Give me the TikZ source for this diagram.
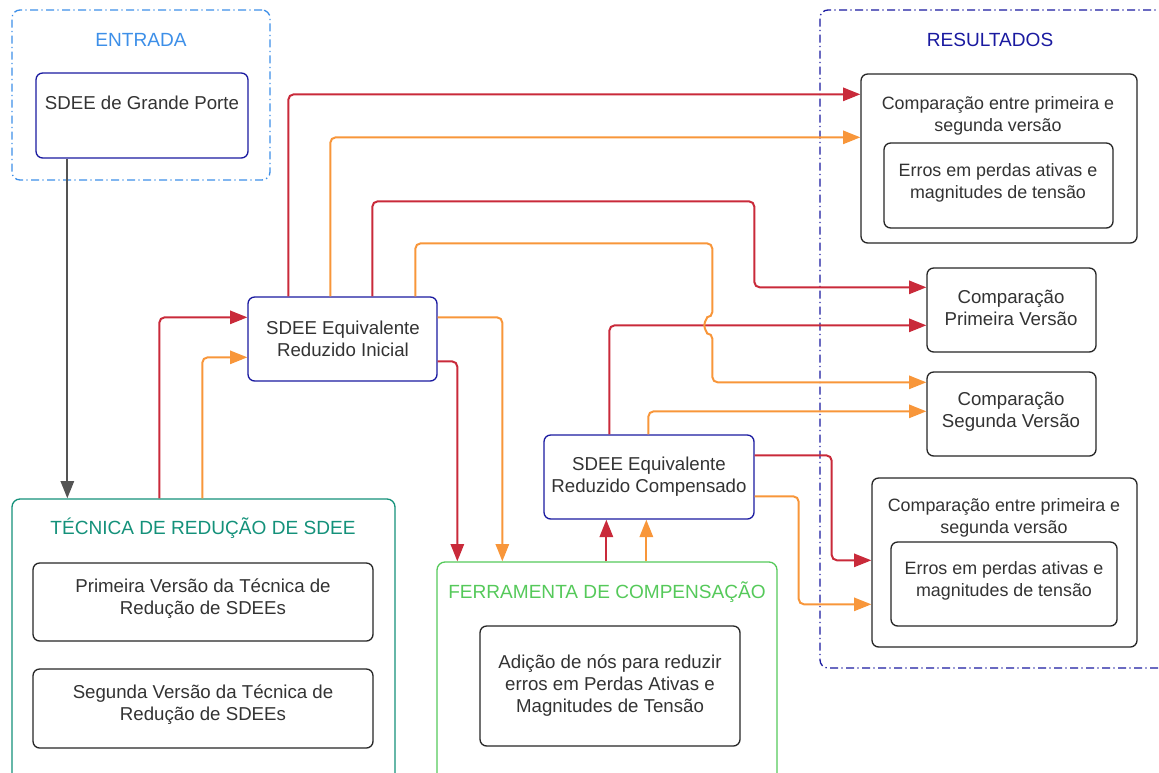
\documentclass[tikz,border=0pt]{standalone}
\usepackage{fontspec}
\setmainfont{Liberation Sans}
\usepackage{xcolor}
\usepackage{tikz}
\usetikzlibrary{arrows.meta, calc, fit}

\definecolor{entblue}{HTML}{3D8FE8}
\definecolor{navy}{HTML}{1A1AA0}
\definecolor{teal}{HTML}{14917A}
\definecolor{fgreen}{HTML}{55C95A}
\definecolor{lred}{HTML}{C92A3A}
\definecolor{lorange}{HTML}{F8963A}
\definecolor{txtgray}{HTML}{333333}

\begin{document}
\begin{tikzpicture}[x=0.75pt, y=-0.75pt,
    txt/.style={font=\fontsize{14}{16.5}\selectfont, text=txtgray, align=center},
    smalltxt/.style={txt, font=\fontsize{13.4}{16.5}\selectfont},
    tittxt/.style={txt, font=\fontsize{14.3}{16.5}\selectfont},
    grp/.style={draw, rounded corners=6pt, line width=1pt, inner sep=0pt,
        dash pattern=on 6pt off 2.5pt on 1pt off 2.5pt},
    box/.style={draw=black!85, rounded corners=5pt, line width=1pt, inner sep=0pt, fill=white},
    sdee/.style={box, draw=navy},
    conn/.style={line width=1.5pt, rounded corners=4pt, -{Triangle[length=13pt, width=10pt]}},
    redln/.style={conn, lred},
    orln/.style={conn, lorange}]
    \useasboundingbox (0,0) rectangle (1159,772);

    \node[grp, draw=entblue, fit={(12,10) (270,180)}] (entrada) {};
    \node[grp, draw=navy, fit={(820,10) (1175,668)}] (result) {};
    \node[grp, draw=teal, solid, fit={(12,499) (395,790)}] (tec) {};
    \node[grp, draw=fgreen, solid, fit={(437,562) (777,790)}] (ferr) {};
    \node[tittxt, text=entblue] (entradatit) at (141,40) {ENTRADA};
    \node[tittxt, text=navy] (resulttit) at (990,40) {RESULTADOS};
    \node[tittxt, text=teal] (tectit) at (203,528) {TÉCNICA DE REDUÇÃO DE SDEE};
    \node[tittxt, text=fgreen] (ferrtit) at (607,592) {FERRAMENTA DE COMPENSAÇÃO};

    \node[sdee, fit={(36,73) (248,158)}] (grande) {};
    \node[sdee, fit={(248,297) (437,381)}] (ini) {};
    \node[sdee, fit={(544,435) (754,519)}] (comp) {};
    \node[box, fit={(33,563) (373,641)}] (prim) {};
    \node[box, fit={(33,669) (373,748)}] (seg) {};
    \node[box, fit={(480,626) (740,746)}] (adic) {};
    \node[box, fit={(861,74) (1137,243)}] (cmpA) {};
    \node[box, fit={(884,143) (1113,228)}] (errA) {};
    \node[box, fit={(927,268) (1096,352)}] (cmpP) {};
    \node[box, fit={(927,372) (1096,456)}] (cmpS) {};
    \node[box, fit={(872,478) (1137,647)}] (cmpB) {};
    \node[box, fit={(891,542) (1117,626)}] (errB) {};

    \node[txt] (grandetxt) at (142,103) {SDEE de Grande Porte};
    \node[txt] (initxt) at (343,338.5) {SDEE Equivalente\\Reduzido Inicial};
    \node[txt] (comptxt) at (649,477) {SDEE Equivalente\\Reduzido Compensado};
    \node[txt] (primtxt) at (203,598.5) {Primeira Versão da Técnica de\\Redução de SDEEs};
    \node[txt] (segtxt) at (203,705) {Segunda Versão da Técnica de\\Redução de SDEEs};
    \node[txt] (adictxt) at (610,686) {Adição de nós para reduzir\\erros em Perdas Ativas e\\Magnitudes de Tensão};
    \node[smalltxt] (cmpAtxt) at (998,115.5) {Comparação entre primeira e\\segunda versão};
    \node[smalltxt] (errAtxt) at (998,183) {Erros em perdas ativas e\\magnitudes de tensão};
    \node[txt] (cmpPtxt) at (1011,308) {Comparação\\Primeira Versão};
    \node[txt] (cmpStxt) at (1011,411.5) {Comparação\\Segunda Versão};
    \node[smalltxt] (cmpBtxt) at (1004,518) {Comparação entre primeira e\\segunda versão};
    \node[smalltxt] (errBtxt) at (1004,581) {Erros em perdas ativas e\\magnitudes de tensão};

    \draw[conn, black!67] ($(grande.south west)+(32,0)$) -- ($(tec.north west)+(56,0)$);
    \draw[redln] ($(tec.north west)+(148,0)$) |- ($(ini.north west)+(0,21)$);
    \draw[orln] ($(tec.north west)+(191,0)$) |- ($(ini.north west)+(0,61)$);
    \draw[redln] ($(ini.north west)+(41,0)$) |- ($(cmpA.north west)+(0,21)$);
    \draw[orln] ($(ini.north west)+(83,0)$) |- ($(cmpA.north west)+(0,64)$);
    \draw[redln] ($(ini.north west)+(125,0)$) -- ++(0,-95) -- ++(382,0) |- ($(cmpP.north west)+(0,20)$);
    \draw[redln] ($(comp.north west)+(66,0)$) |- ($(cmpP.north west)+(0,58)$);
    \draw[orln] ($(ini.north west)+(168,0)$) -- ++(0,-53) -- ++(297,0) -- ++(0,74)
        arc[start angle=90, end angle=270, radius=6pt] |- ($(cmpS.north west)+(0,11)$);
    \draw[orln] ($(comp.north west)+(105,0)$) |- ($(cmpS.north west)+(0,40)$);
    \draw[redln] ($(ini.north east)+(0,65)$) -| ($(ferr.north west)+(21,0)$);
    \draw[orln] ($(ini.north east)+(0,21)$) -| ($(ferr.north west)+(66,0)$);
    \draw[redln] ($(ferr.north west)+(170,0)$) -- ($(comp.south west)+(63,0)$);
    \draw[orln] ($(ferr.north west)+(210,0)$) -- ($(comp.south west)+(103,0)$);
    \draw[redln] ($(comp.north east)+(0,21)$) -- ++(77,0) |- ($(cmpB.north west)+(0,83)$);
    \draw[orln] ($(comp.north east)+(0,62)$) -- ++(44,0) |- ($(cmpB.north west)+(0,127)$);
\end{tikzpicture}
\end{document}
